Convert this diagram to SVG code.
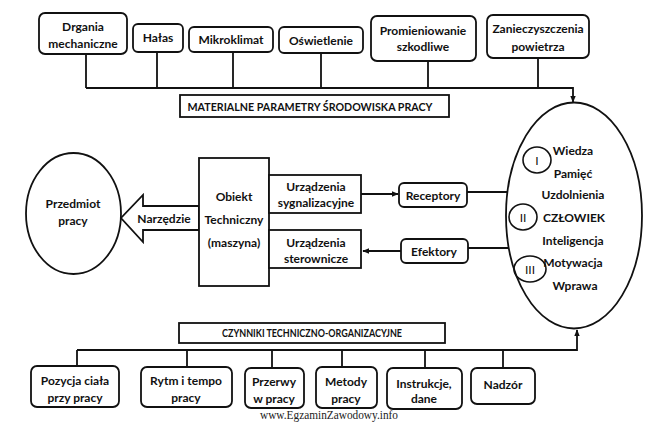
<svg xmlns="http://www.w3.org/2000/svg" width="660" height="422" viewBox="0 0 660 422">
<defs>
<style>
.b{fill:#fff;stroke:#111;stroke-width:1.8}
.n{fill:none;stroke:#111;stroke-width:1.6}
.t{font-family:Lato,"Open Sans","Liberation Sans",sans-serif;font-weight:bold;font-size:12px;fill:#111;text-anchor:middle;dominant-baseline:central}
.c{stroke:#111;stroke-width:1.8;fill:none}
</style>
<marker id="ah" viewBox="0 0 10 10" refX="9" refY="5" markerWidth="7" markerHeight="7" orient="auto" markerUnits="userSpaceOnUse">
<path d="M0,1 L10,5 L0,9 Z" fill="#111"/>
</marker>
</defs>
<rect width="660" height="422" fill="#fff"/>

<g id="connectors">
<path class="c" d="M86,54 V88 M157,52 V88 M233,52 V88 M321,53 V88 M428,61 V88 M538,58 V88 M86,88 H573 V102" marker-end="url(#ah)"/>
<path class="c" d="M77,366 V350 M187,367 V350 M272,368 V350 M342,367 V350 M425,368 V350 M503,368 V350 M77,350 H577 V330" marker-end="url(#ah)"/>
<path class="c" d="M361,194 H398" marker-end="url(#ah)"/>
<path class="c" d="M401,251 H363" marker-end="url(#ah)"/>
<path class="c" d="M467,192 H508"/>
<path class="c" d="M468,248 H509"/>
</g>

<g id="n-drgania"><rect class="b" x="39" y="13" width="88" height="41" rx="6"/><text class="t" x="83" y="26">Drgania</text><text class="t" x="83" y="43">mechaniczne</text></g>
<g id="n-halas"><rect class="b" x="133" y="24" width="50" height="28" rx="5"/><text class="t" x="158" y="37">Hałas</text></g>
<g id="n-mikroklimat"><rect class="b" x="189" y="27" width="84" height="25" rx="5"/><text class="t" x="231" y="39">Mikroklimat</text></g>
<g id="n-oswietlenie"><rect class="b" x="279" y="27" width="84" height="26" rx="5"/><text class="t" x="321" y="40">Oświetlenie</text></g>
<g id="n-promieniowanie"><rect class="b" x="371" y="16" width="105" height="45" rx="6"/><text class="t" x="423" y="30">Promieniowanie</text><text class="t" x="423" y="46">szkodliwe</text></g>
<g id="n-zanieczyszczenia"><rect class="b" x="487" y="15" width="102" height="43" rx="6"/><text class="t" x="538" y="28">Zanieczyszczenia</text><text class="t" x="538" y="46">powietrza</text></g>

<g id="n-materialne"><rect class="b" x="180" y="95" width="269" height="22"/><text class="t" x="310" y="106" style="font-size:11px" textLength="245" lengthAdjust="spacingAndGlyphs">MATERIALNE PARAMETRY ŚRODOWISKA PRACY</text></g>

<g id="n-przedmiot"><ellipse class="b" cx="73.5" cy="213.5" rx="47.5" ry="60.5"/><text class="t" x="73" y="203">Przedmiot</text><text class="t" x="73" y="220">pracy</text></g>

<g id="n-narzedzie"><path class="b" d="M199,206 H143 V195 L121,218 L143,242 V230 H199 Z"/><text class="t" x="164" y="218">Narzędzie</text></g>

<g id="n-obiekt"><rect class="b" x="199" y="158" width="70" height="128"/><text class="t" x="234" y="196">Obiekt</text><text class="t" x="234" y="219">Techniczny</text><text class="t" x="234" y="242">(maszyna)</text></g>

<g id="n-sygnalizacyjne"><rect class="b" x="269" y="175" width="92" height="38"/><text class="t" x="316" y="186">Urządzenia</text><text class="t" x="316" y="202">sygnalizacyjne</text></g>
<g id="n-sterownicze"><rect class="b" x="269" y="230" width="92" height="38"/><text class="t" x="316" y="242">Urządzenia</text><text class="t" x="316" y="258">sterownicze</text></g>

<g id="n-receptory"><rect class="b" x="399" y="183" width="68" height="24" rx="5"/><text class="t" x="433" y="195">Receptory</text></g>
<g id="n-efektory"><rect class="b" x="401" y="239" width="67" height="24" rx="5"/><text class="t" x="434" y="251">Efektory</text></g>

<g id="n-czlowiek">
<ellipse class="b" cx="574" cy="215.5" rx="68" ry="113"/>
<ellipse class="n" cx="537" cy="160" rx="14" ry="13"/>
<ellipse class="n" cx="523" cy="217" rx="14" ry="13"/>
<ellipse class="n" cx="530" cy="269" rx="16" ry="13"/>
<text class="t" x="537" y="160" style="font-weight:normal">I</text>
<text class="t" x="523" y="217" style="font-weight:normal">II</text>
<text class="t" x="530" y="269" style="font-weight:normal">III</text>
<text class="t" x="573" y="150">Wiedza</text>
<text class="t" x="573" y="173">Pamięć</text>
<text class="t" x="573" y="194">Uzdolnienia</text>
<text class="t" x="574" y="217">CZŁOWIEK</text>
<text class="t" x="573" y="240">Inteligencja</text>
<text class="t" x="573" y="262">Motywacja</text>
<text class="t" x="575" y="285">Wprawa</text>
</g>

<g id="n-czynniki"><rect class="b" x="179" y="323" width="266" height="20"/><text class="t" x="312" y="333" style="font-size:10.5px" textLength="180" lengthAdjust="spacingAndGlyphs">CZYNNIKI TECHNICZNO-ORGANIZACYJNE</text></g>

<g id="n-pozycja"><rect class="b" x="31" y="366" width="88" height="41" rx="6"/><text class="t" x="75" y="380">Pozycja ciała</text><text class="t" x="75" y="397">przy pracy</text></g>
<g id="n-rytm"><rect class="b" x="141" y="367" width="91" height="40" rx="6"/><text class="t" x="186" y="380">Rytm i tempo</text><text class="t" x="186" y="397">pracy</text></g>
<g id="n-przerwy"><rect class="b" x="245" y="368" width="59" height="40" rx="6"/><text class="t" x="274" y="381">Przerwy</text><text class="t" x="274" y="398">w pracy</text></g>
<g id="n-metody"><rect class="b" x="316" y="367" width="61" height="41" rx="6"/><text class="t" x="346" y="381">Metody</text><text class="t" x="346" y="398">pracy</text></g>
<g id="n-instrukcje"><rect class="b" x="387" y="368" width="75" height="41" rx="6"/><text class="t" x="424" y="383">Instrukcje,</text><text class="t" x="424" y="398">dane</text></g>
<g id="n-nadzor"><rect class="b" x="471" y="368" width="64" height="36" rx="6"/><text class="t" x="503" y="384">Nadzór</text></g>

<text x="260" y="419" font-family="Liberation Serif,serif" font-size="12" fill="#222" textLength="138" lengthAdjust="spacingAndGlyphs">www.EgzaminZawodowy.info</text>
</svg>
